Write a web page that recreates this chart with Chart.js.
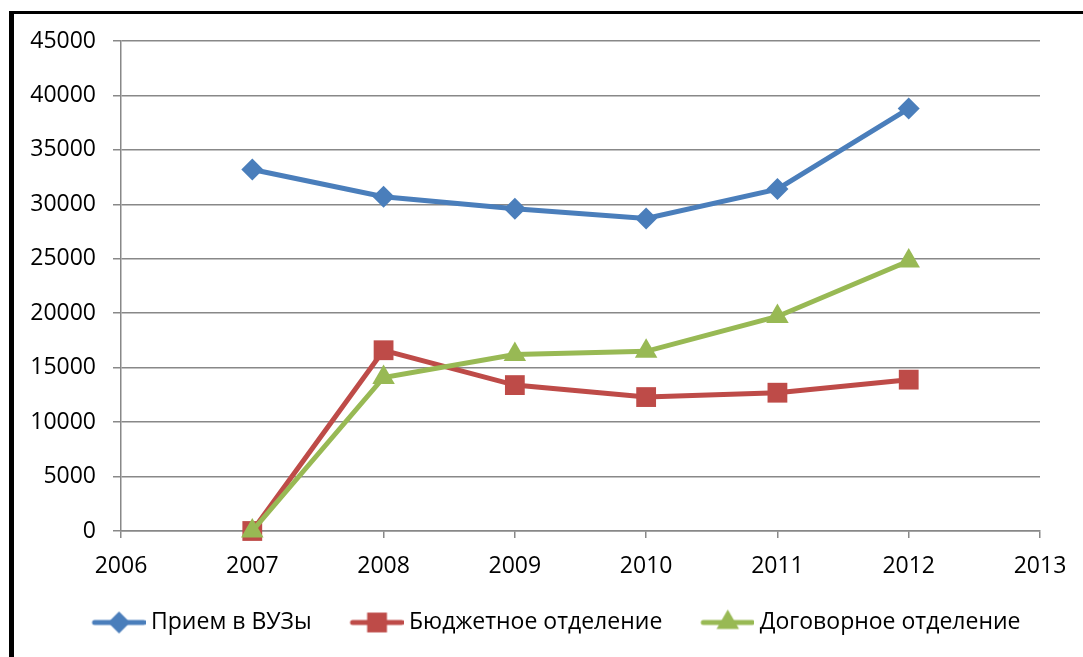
<!DOCTYPE html>
<html>
<head>
<meta charset="utf-8">
<script src="https://cdn.jsdelivr.net/npm/chart.js@4/dist/chart.umd.min.js"></script>
<style>
  html, body { margin: 0; padding: 0; background: #fff; }
  #wrap { position: relative; width: 1083px; height: 657px; overflow: hidden; }
  #moldura { position: absolute; left: 9px; top: 11px; width: 1200px; height: 800px;
             border-left: 5px solid #000; border-top: 3px solid #000; }
  canvas { position: absolute; left: 0; top: 0; }
</style>
</head>
<body>
<div id="wrap">
  <div id="moldura"></div>
  <canvas id="grafico" width="1083" height="657"></canvas>
</div>
<script>
// dados
const anos = [2007, 2008, 2009, 2010, 2011, 2012];
const priemVuzy = [33200, 30700, 29600, 28700, 31400, 38800];
const byudzhet = [0, 16600, 13400, 12300, 12700, 13900];
const dogovor = [0, 14100, 16200, 16500, 19700, 24800];

const nomes = ["Прием в ВУЗы", "Бюджетное отделение", "Договорное отделение"];
const cores = ["#4A7EBB", "#BE4B48", "#98B954"];
const estilos = ["rectRot", "rect", "triangle"];
const raios = [11, 14, 13];

const COR_GRADE = "#888888";
const LARG_ICONE = 76;

/* ================= UTIL ================= */

function pontos(valores) {
  return anos.map((a, i) => ({ x: a, y: valores[i] }));
}

// ícone da legenda: linha + marcador, alinhado à direita
function iconeLegenda(i) {
  const c = document.createElement("canvas");
  c.width = LARG_ICONE + 12;
  c.height = 28;
  const ctx = c.getContext("2d");
  const fim = c.width;
  const ini = fim - 53;
  ctx.strokeStyle = cores[i];
  ctx.lineWidth = 5;
  ctx.lineCap = "round";
  ctx.beginPath();
  ctx.moveTo(ini + 2, 14);
  ctx.lineTo(fim - 2, 14);
  ctx.stroke();
  ctx.fillStyle = cores[i];
  Chart.helpers.drawPoint(ctx, { pointStyle: estilos[i], radius: raios[i], rotation: 0, borderWidth: 0 }, (ini + fim) / 2, 14);
  return c;
}

// rótulos do eixo y ficam fora da caixa estreita do eixo; libera o recorte
const soltaRotulos = {
  id: "soltaRotulos",
  afterLayout(chart) {
    const y = chart.scales.y;
    y.left = 0;
    y.width = y.right;
  }
};

/* ================= GRÁFICO ================= */

Chart.defaults.font.family = "'Open Sans', sans-serif";
Chart.defaults.font.size = 23;
Chart.defaults.color = "#000";

const series = [priemVuzy, byudzhet, dogovor];
const icones = series.map((s, i) => iconeLegenda(i));

new Chart(document.getElementById("grafico"), {
  type: "line",
  data: {
    datasets: series.map((s, i) => ({
      label: nomes[i],
      data: pontos(s),
      borderColor: cores[i],
      backgroundColor: cores[i],
      borderWidth: 5,
      tension: 0,
      pointStyle: estilos[i],
      pointRadius: raios[i],
      pointHoverRadius: raios[i],
      pointBorderWidth: 0,
      pointBackgroundColor: cores[i],
      clip: false,
      order: 2 - i
    }))
  },
  plugins: [soltaRotulos],
  options: {
    responsive: false,
    animation: false,
    devicePixelRatio: 1,
    layout: { padding: { left: 44, right: 43, top: 41, bottom: 13 } },
    scales: {
      x: {
        type: "linear",
        min: 2006,
        max: 2013,
        afterFit: s => { s.height = 70; },
        ticks: { stepSize: 1, padding: 15, callback: v => String(v) },
        grid: { drawOnChartArea: false, drawTicks: true, tickLength: 7, color: COR_GRADE, lineWidth: 1.5 },
        border: { color: COR_GRADE, width: 1.5 }
      },
      y: {
        min: 0,
        max: 45000,
        afterFit: s => { s.width = 77; },
        ticks: { stepSize: 5000, padding: 17, callback: v => String(v) },
        grid: { color: COR_GRADE, lineWidth: 1.5, tickLength: 8 },
        border: { color: COR_GRADE, width: 1.5 }
      }
    },
    plugins: {
      tooltip: { enabled: false },
      legend: {
        position: "bottom",
        labels: {
          usePointStyle: true,
          pointStyleWidth: LARG_ICONE,
          padding: 10,
          color: "#000",
          font: { size: 23 },
          generateLabels: () => nomes.map((n, i) => ({
            text: n,
            pointStyle: icones[i],
            fillStyle: cores[i],
            strokeStyle: cores[i],
            lineWidth: 0,
            hidden: false,
            datasetIndex: i
          }))
        }
      }
    }
  }
});
</script>
</body>
</html>
